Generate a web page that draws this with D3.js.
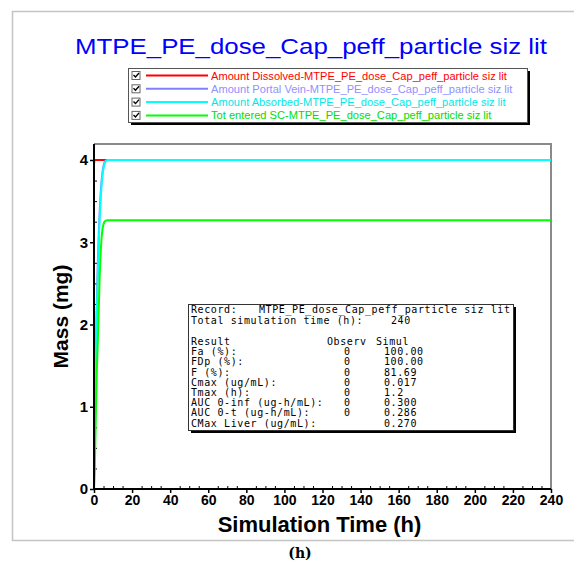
<!DOCTYPE html>
<html>
<head>
<meta charset="utf-8">
<script src="https://cdn.jsdelivr.net/npm/d3@7"></script>
<style>
  html, body { margin: 0; padding: 0; background: #ffffff; }
  svg { display: block; }
</style>
</head>
<body>
<script>
// ---- chart data -------------------------------------------------------
const titleText = "MTPE_PE_dose_Cap_peff_particle siz lit";

const seriesNames = [
  "Amount Dissolved-MTPE_PE_dose_Cap_peff_particle siz lit",
  "Amount Portal Vein-MTPE_PE_dose_Cap_peff_particle siz lit",
  "Amount Absorbed-MTPE_PE_dose_Cap_peff_particle siz lit",
  "Tot entered SC-MTPE_PE_dose_Cap_peff_particle siz lit"
];
const seriesColors = ["#ff0000", "#8080ff", "#00ffff", "#00ff00"];
const legendTextColors = ["#ff0000", "#9090ff", "#00e8e8", "#00dd00"];

// time points (h) and amounts (mg) for each series
const timeDissolved  = [0, 0, 0.25, 240];
const massDissolved  = [3.85, 3.95, 4.0, 4.0];

const timeCurve      = [0, 0.5, 1, 1.5, 2, 2.5, 3, 3.5, 4, 4.5, 5, 5.5, 6, 7, 240];
const massPortalVein = [0, 1.0, 1.75, 2.3, 2.75, 3.1, 3.38, 3.6, 3.75, 3.86, 3.93, 3.97, 3.99, 4.0, 4.0];
const massAbsorbed   = [0, 0.9, 1.6, 2.15, 2.6, 3.0, 3.3, 3.52, 3.7, 3.82, 3.9, 3.95, 3.98, 4.0, 4.0];
const massSystemic   = [0, 0.35, 0.95, 1.45, 1.8, 2.2, 2.6, 2.88, 3.06, 3.17, 3.22, 3.25, 3.26, 3.2676, 3.2676];

const xTicks = [0, 20, 40, 60, 80, 100, 120, 140, 160, 180, 200, 220, 240];
const yTicks = [0, 1, 2, 3, 4];

// results table
const recordName = "MTPE_PE_dose_Cap_peff_particle siz lit";
const totalSimTime = "240";
const resultLabels = ["Fa (%):", "FDp (%):", "F (%):", "Cmax (ug/mL):", "Tmax (h):",
                      "AUC 0-inf (ug-h/mL):", "AUC 0-t (ug-h/mL):", "CMax Liver (ug/mL):"];
const observValues = ["0", "0", "0", "0", "0", "0", "0", ""];
const simulValues  = ["100.00", "100.00", "81.69", "0.017", "1.2", "0.300", "0.286", "0.270"];

// ---- layout ------------------------------------------------------------
const W = 574, H = 563;
const plot = { left: 94, right: 551, top: 144, bottom: 489 };

const svg = d3.select("body").append("svg")
  .attr("width", W).attr("height", H)
  .style("font-family", "'Liberation Sans', Arial, sans-serif");

// outer panel frame
svg.append("path")
  .attr("d", `M${W},11.5 H12.5 V540.5 H${W}`)
  .attr("fill", "none").attr("stroke", "#c4c4c4").attr("stroke-width", 1.5);

// title
svg.append("text")
  .attr("x", 75).attr("y", 54)
  .attr("font-size", 22)
  .attr("textLength", 472).attr("lengthAdjust", "spacingAndGlyphs")
  .attr("fill", "#0000ff")
  .text(titleText);

// ---- scales & axes ------------------------------------------------------
const x = d3.scaleLinear().domain([0, 240]).range([plot.left, plot.right]);
const y = d3.scaleLinear().domain([0, 4]).range([plot.bottom, 160]);

// grey top/right frame of the plot area
svg.append("path")
  .attr("d", `M${plot.left},${plot.top} H${plot.right} V${plot.bottom}`)
  .attr("fill", "none").attr("stroke", "#8a8a8a").attr("stroke-width", 2);

// minor ticks point into the plot
const xMinor = d3.range(0, 241, 5).filter(v => v % 20 !== 0);
svg.append("g")
  .attr("transform", `translate(0,${plot.bottom})`)
  .call(d3.axisTop(x).tickValues(xMinor).tickSize(3).tickFormat(""))
  .call(g => g.select(".domain").remove())
  .selectAll("line").attr("stroke", "#000");

const yMinor = d3.range(0, 4.01, 0.25).filter(v => Math.abs(v - Math.round(v)) > 1e-6);
svg.append("g")
  .attr("transform", `translate(${plot.left},0)`)
  .call(d3.axisRight(y).tickValues(yMinor).tickSize(3).tickFormat(""))
  .call(g => g.select(".domain").remove())
  .selectAll("line").attr("stroke", "#000");

// ---- series lines --------------------------------------------------------
const line = d3.line().x(d => x(d[0])).y(d => y(d[1]));
const seriesData = [
  d3.zip(timeDissolved, massDissolved),
  d3.zip(timeCurve, massPortalVein),
  d3.zip(timeCurve, massAbsorbed),
  d3.zip(timeCurve, massSystemic)
];
svg.append("g").selectAll("path")
  .data(seriesData)
  .join("path")
  .attr("d", line)
  .attr("fill", "none")
  .attr("stroke", (d, i) => seriesColors[i])
  .attr("stroke-width", 2);

// major axes drawn over the lines
const xAxis = svg.append("g")
  .attr("transform", `translate(0,${plot.bottom})`)
  .call(d3.axisBottom(x).tickValues(xTicks).tickFormat(d3.format("d")).tickSize(4).tickPadding(2));
const yAxis = svg.append("g")
  .attr("transform", `translate(${plot.left},0)`)
  .call(d3.axisLeft(y).tickValues(yTicks).tickFormat(d3.format("d")).tickSize(4).tickPadding(2));
[xAxis, yAxis].forEach(g => {
  g.select(".domain").attr("stroke", "#000").attr("stroke-width", 2)
    .attr("d", g === xAxis ? `M${plot.left},0H${plot.right}` : `M0,${plot.bottom}V${plot.top}`);
  g.selectAll("line").attr("stroke", "#000").attr("stroke-width", 1.5);
  g.selectAll("text")
    .attr("font-family", "'Liberation Sans', Arial, sans-serif")
    .attr("font-weight", "bold").attr("font-size", 14).attr("fill", "#000");
});
yAxis.selectAll("text").attr("font-size", 15);

// axis titles
svg.append("text")
  .attr("x", (plot.left + plot.right) / 2 - 3).attr("y", 532)
  .attr("text-anchor", "middle")
  .attr("font-weight", "bold").attr("font-size", 22)
  .text("Simulation Time (h)");
svg.append("text")
  .attr("transform", `translate(68,${(plot.top + plot.bottom) / 2}) rotate(-90)`)
  .attr("text-anchor", "middle")
  .attr("font-weight", "bold").attr("font-size", 21)
  .text("Mass (mg)");

// ---- legend ---------------------------------------------------------------
const lg = { x: 128, y: 68, w: 399, h: 54 };
svg.append("rect")
  .attr("x", lg.x + 3).attr("y", lg.y + 3).attr("width", lg.w).attr("height", lg.h)
  .attr("fill", "#000");
svg.append("rect")
  .attr("x", lg.x + 0.5).attr("y", lg.y + 0.5).attr("width", lg.w).attr("height", lg.h)
  .attr("fill", "#fff").attr("stroke", "#555");

const rowY = i => 75.5 + i * 13.3;
const items = svg.append("g").selectAll("g")
  .data(seriesNames).join("g");
items.append("rect")
  .attr("x", 132).attr("y", (d, i) => rowY(i) - 4)
  .attr("width", 8).attr("height", 8)
  .attr("fill", "#fff").attr("stroke", "#666");
items.append("path")
  .attr("d", (d, i) => `M133.5,${rowY(i) - 0.5} l2,2 l3.5,-4`)
  .attr("fill", "none").attr("stroke", "#000").attr("stroke-width", 1.4);
items.append("line")
  .attr("x1", 146).attr("x2", 208)
  .attr("y1", (d, i) => rowY(i)).attr("y2", (d, i) => rowY(i))
  .attr("stroke", (d, i) => seriesColors[i]).attr("stroke-width", 2);
items.append("text")
  .attr("x", 211).attr("y", (d, i) => rowY(i) + 4)
  .attr("font-size", 11.1)
  .attr("fill", (d, i) => legendTextColors[i])
  .text(d => d);

// ---- results table ---------------------------------------------------------
const tb = { x: 188, y: 304, w: 325, h: 126 };
svg.append("rect")
  .attr("x", tb.x + 3).attr("y", tb.y + 3).attr("width", tb.w).attr("height", tb.h)
  .attr("fill", "#000");
svg.append("rect")
  .attr("x", tb.x + 0.5).attr("y", tb.y + 0.5).attr("width", tb.w).attr("height", tb.h)
  .attr("fill", "#fff").attr("stroke", "#333");

const mono = svg.append("g")
  .attr("font-family", "'DejaVu Sans Mono', monospace")
  .attr("font-size", 10)
  .attr("letter-spacing", 0.6)
  .attr("fill", "#000");
const lx = 191;
mono.append("text").attr("x", lx).attr("y", 313).text("Record:");
mono.append("text").attr("x", 259).attr("y", 313).text(recordName);
mono.append("text").attr("x", lx).attr("y", 324).text("Total simulation time (h):");
mono.append("text").attr("x", 391).attr("y", 324).text(totalSimTime);

const rowBase = 345, rowStep = 10.2;
mono.append("text").attr("x", lx).attr("y", rowBase).text("Result");
mono.append("text").attr("x", 327).attr("y", rowBase).text("Observ");
mono.append("text").attr("x", 376).attr("y", rowBase).text("Simul");
resultLabels.forEach((lab, i) => {
  const yy = rowBase + (i + 1) * rowStep;
  mono.append("text").attr("x", lx).attr("y", yy).text(lab);
  mono.append("text").attr("x", 344).attr("y", yy).text(observValues[i]);
  mono.append("text").attr("x", 384).attr("y", yy).text(simulValues[i]);
});

// panel caption
svg.append("text")
  .attr("x", 300).attr("y", 558)
  .attr("text-anchor", "middle")
  .attr("font-family", "'DejaVu Serif', 'Liberation Serif', serif")
  .attr("font-weight", "bold").attr("font-size", 14)
  .text("(h)");
</script>
</body>
</html>
